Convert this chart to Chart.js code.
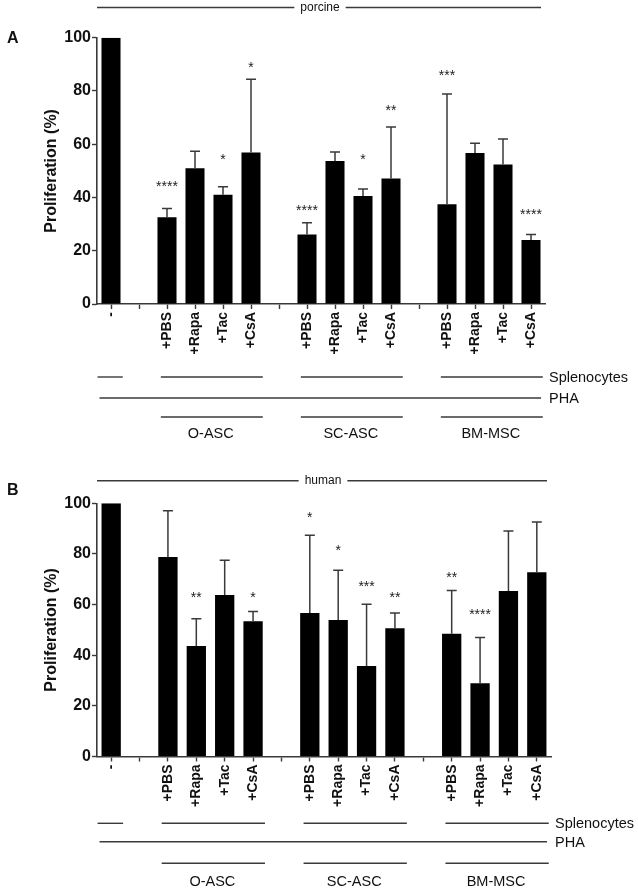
<!DOCTYPE html>
<html>
<head>
<meta charset="utf-8">
<title>Proliferation</title>
<script src="https://cdn.jsdelivr.net/npm/chart.js@4.4.1/dist/chart.umd.min.js"></script>
<style>
  body { margin: 0; background: #fff; }
  #wrap { position: relative; width: 638px; height: 889px; }
  canvas { position: absolute; left: 0; }
</style>
</head>
<body>
<div id="wrap">
  <canvas id="chart-a" width="638" height="445" style="top:0;width:638px;height:445px"></canvas>
  <canvas id="chart-b" width="638" height="444" style="top:445px;width:638px;height:444px"></canvas>
</div>
<script>
'use strict';

// categories along the x axis (empty strings are the gaps between groups)
let categories = ['-', '', '+PBS', '+Rapa', '+Tac', '+CsA', '', '+PBS', '+Rapa', '+Tac', '+CsA', '', '+PBS', '+Rapa', '+Tac', '+CsA'];
let groupNames = ['O-ASC', 'SC-ASC', 'BM-MSC'];
let groupSlots = [[2, 5], [7, 10], [12, 15]];
let yTicks = [0, 20, 40, 60, 80, 100];

// porcine (A)
let porcineMean = [100, null, 32.6, 51, 41, 56.9, null, 26.1, 53.7, 40.6, 47.1, null, 37.5, 56.7, 52.4, 24];
let porcineSD = [0, null, 3.3, 6.4, 3.0, 27.5, null, 4.4, 3.4, 2.6, 19.4, null, 41.4, 3.7, 9.6, 2.1];
let porcineStars = ['', '', '****', '', '*', '*', '', '****', '', '*', '**', '', '***', '', '', '****'];
let porcineStarAt = [null, null, 45.5, null, 55.5, 90, null, 36.5, null, 55.5, 74, null, 87, null, null, 35];

// human (B)
let humanMean = [100, null, 78.8, 43.6, 63.8, 53.4, null, 56.7, 53.9, 35.7, 50.7, null, 48.5, 28.9, 65.4, 72.8];
let humanSD = [0, null, 18.3, 10.8, 13.7, 3.9, null, 30.7, 19.7, 24.4, 6.0, null, 17.1, 18.1, 23.7, 19.8];
let humanStars = ['', '', '', '**', '', '*', '', '*', '*', '***', '**', '', '**', '****', '', ''];
let humanStarAt = [null, null, null, 64, null, 64, null, 95.8, 82.6, 68.7, 64.3, null, 72, 57.4, null, null];

const FONT = "'Liberation Sans', Arial, sans-serif";
const INK = '#111';
const LINE = '#3a3a3a';

Chart.defaults.font.family = FONT;
Chart.defaults.color = INK;

const panelPlugin = {
  id: 'panel',
  afterDatasetsDraw(chart, args, o) {
    const { ctx, scales: { y } } = chart;
    const meta = chart.getDatasetMeta(0);
    ctx.save();
    ctx.strokeStyle = LINE;
    ctx.lineWidth = 1.5;
    meta.data.forEach((bar, i) => {
      const m = o.mean[i];
      if (m === null || !o.sd[i]) return;
      const top = y.getPixelForValue(m + o.sd[i]);
      ctx.beginPath();
      ctx.moveTo(bar.x, bar.y);
      ctx.lineTo(bar.x, top);
      ctx.moveTo(bar.x - 5, top);
      ctx.lineTo(bar.x + 5, top);
      ctx.stroke();
    });
    ctx.fillStyle = '#222';
    ctx.font = '14px ' + FONT;
    ctx.textAlign = 'center';
    ctx.textBaseline = 'alphabetic';
    meta.data.forEach((bar, i) => {
      if (!o.stars[i]) return;
      ctx.fillText(o.stars[i], bar.x, y.getPixelForValue(o.starAt[i]) + 8);
    });
    ctx.restore();
  },
  afterDraw(chart, args, o) {
    const { ctx, chartArea: ca, scales: { x } } = chart;
    const slot = x.getPixelForValue(1) - x.getPixelForValue(0);
    const px = (i) => x.getPixelForValue(i);
    const span = (a, b) => [px(a) - 0.22 * slot, px(b) + 0.42 * slot];
    const hline = (x1, x2, yy) => {
      ctx.beginPath();
      ctx.moveTo(x1, yy);
      ctx.lineTo(x2, yy);
      ctx.stroke();
    };

    ctx.save();
    ctx.strokeStyle = LINE;
    ctx.lineWidth = 1.4;
    ctx.fillStyle = INK;

    // panel letter
    ctx.font = 'bold 16px ' + FONT;
    ctx.textAlign = 'left';
    ctx.textBaseline = 'alphabetic';
    ctx.fillText(o.letter, 7, o.letterY);

    // species header
    ctx.font = '12px ' + FONT;
    ctx.textAlign = 'center';
    ctx.textBaseline = 'middle';
    const cx = (ca.left + ca.right) / 2 - 1;
    const half = ctx.measureText(o.species).width / 2 + 6;
    ctx.fillText(o.species, cx, o.headerY);
    hline(ca.left, cx - half, o.headerY);
    hline(cx + half, ca.right - 4, o.headerY);

    // splenocytes row
    const ySpl = ca.bottom + o.rows[0];
    const yPha = ca.bottom + o.rows[1];
    const yGrp = ca.bottom + o.rows[2];
    const yLbl = ca.bottom + o.rows[3];
    hline(px(0) - 0.48 * slot, px(0) + 0.42 * slot, ySpl);
    groupSlots.forEach(([a, b]) => {
      const [x1, x2] = span(a, b);
      hline(x1, x2, ySpl);
      hline(x1, x2, yGrp);
    });
    hline(px(0) - 0.41 * slot, px(categories.length - 1) + 0.36 * slot, yPha);

    ctx.font = '14.5px ' + FONT;
    ctx.textAlign = 'left';
    ctx.fillText('Splenocytes', ca.right + 4, ySpl + 1);
    ctx.fillText('PHA', ca.right + 4, yPha + 1);

    ctx.textAlign = 'center';
    groupSlots.forEach(([a, b], g) => {
      const [x1, x2] = span(a, b);
      ctx.fillText(groupNames[g], (x1 + x2) / 2 - 1, yLbl);
    });
    ctx.restore();
  }
};

function makeChart(canvasId, means, sds, stars, starAt, panel) {
  let canvasElem = document.getElementById(canvasId);
  let chartObj = {
    type: 'bar',
    data: {
      labels: categories,
      datasets: [{
        data: means,
        backgroundColor: '#000',
        borderWidth: 0,
        categoryPercentage: 1,
        barPercentage: 0.68
      }]
    },
    options: {
      responsive: false,
      animation: false,
      devicePixelRatio: 1,
      layout: { padding: panel.padding },
      scales: {
        x: {
          grid: {
            drawOnChartArea: false,
            offset: false,
            tickLength: 5,
            tickWidth: 1.4,
            tickColor: LINE
          },
          border: { color: LINE, width: 1.6 },
          ticks: {
            autoSkip: false,
            minRotation: 90,
            maxRotation: 90,
            padding: 3,
            color: INK,
            font: { size: 14, weight: 'bold' }
          },
          afterFit: (s) => { s.height = 60; }
        },
        y: {
          min: 0,
          max: 100,
          afterBuildTicks: (s) => { s.ticks = yTicks.map(v => ({ value: v })); },
          grid: {
            drawOnChartArea: false,
            tickLength: 5,
            tickWidth: 1.4,
            tickColor: LINE
          },
          border: { color: LINE, width: 1.6 },
          ticks: {
            padding: 1,
            color: INK,
            font: { size: 16, weight: 'bold' }
          },
          title: {
            display: true,
            text: 'Proliferation (%)',
            color: INK,
            font: { size: 16, weight: 'bold' }
          },
          afterFit: (s) => { s.width = 59; }
        }
      },
      plugins: {
        legend: { display: false },
        tooltip: { enabled: false },
        panel: {
          mean: means,
          sd: sds,
          stars: stars,
          starAt: starAt,
          letter: panel.letter,
          letterY: panel.letterY,
          species: panel.species,
          headerY: panel.headerY,
          rows: panel.rows
        }
      }
    },
    plugins: [panelPlugin]
  };
  return new Chart(canvasElem, chartObj);
}

makeChart('chart-a', porcineMean, porcineSD, porcineStars, porcineStarAt, {
  letter: 'A', letterY: 43, species: 'porcine', headerY: 7.5,
  padding: { left: 38, top: 37.7, right: 93, bottom: 81 },
  rows: [73, 94, 113, 130]
});

makeChart('chart-b', humanMean, humanSD, humanStars, humanStarAt, {
  letter: 'B', letterY: 50, species: 'human', headerY: 35.7,
  padding: { left: 38, top: 58.3, right: 87, bottom: 72.5 },
  rows: [66.8, 85.2, 106.8, 125]
});
</script>
</body>
</html>
